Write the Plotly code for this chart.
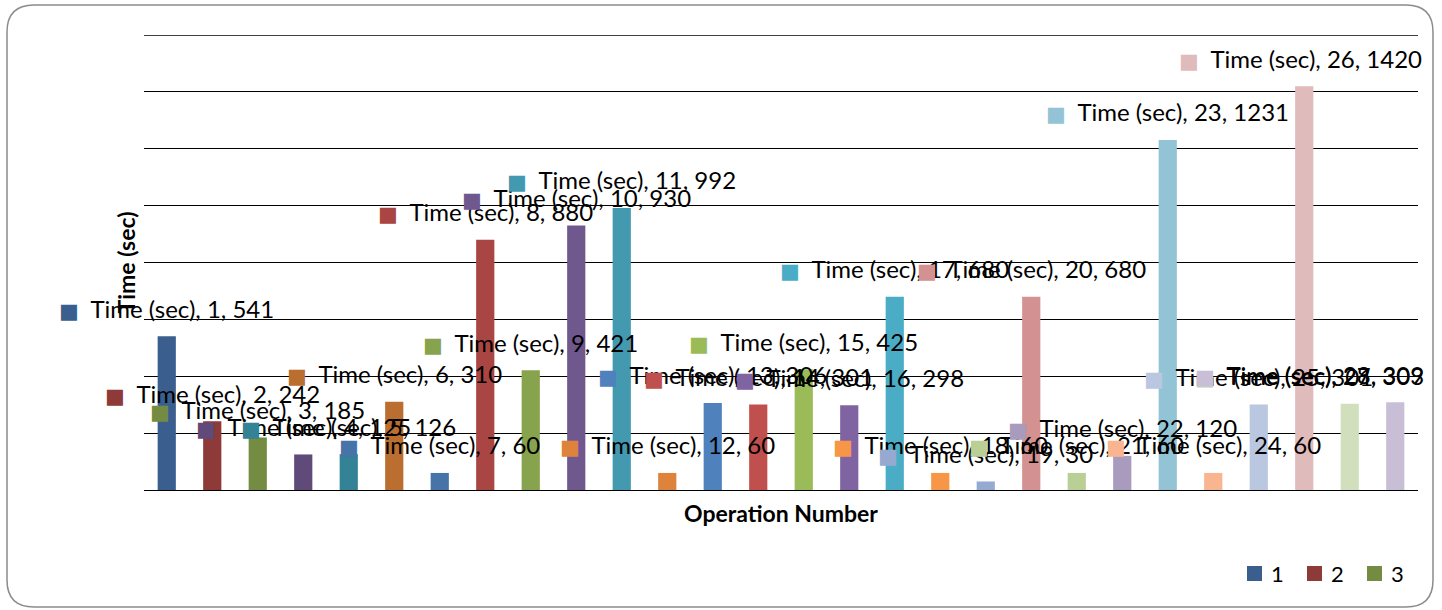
import plotly.graph_objects as go

# Operation numbers and their measured times
operations = list(range(1, 29))
times_sec = [541, 242, 185, 125, 126, 310, 60, 880, 421, 930, 992, 60, 306, 301,
             425, 298, 680, 60, 30, 680, 60, 120, 1231, 60, 301, 1420, 303, 309]
series_name = "Time (sec)"

# One colour per operation (varied point colours)
bar_colors = ["#3A5F8F", "#8E3A38", "#748C41", "#5F4A7A", "#348295", "#BA6F30",
              "#4673A8", "#A94543", "#87A34D", "#6F588E", "#4299B0", "#DE833C",
              "#4F81BD", "#C0504D", "#9BBB59", "#8064A2", "#4BACC6", "#F79646",
              "#95A9D1", "#D39291", "#BACF96", "#A99BBD", "#93C4D5", "#F8B58F",
              "#BAC7E0", "#E0BBBB", "#D1DFBD", "#C8BFD7"]

# Horizontal nudges for labels that would run past the right edge
label_xshift = [0] * 25 + [-4, -40, -86]

# Only the first few categories fit in the legend box
legend_count = 3

FONT = "Lato"
Y_MAX = 1600

fig = go.Figure()
for i, (op, t) in enumerate(zip(operations, times_sec)):
    fig.add_trace(go.Bar(
        x=[op], y=[t], name=str(op), width=0.4,
        marker=dict(color=bar_colors[i], line=dict(width=0)),
        showlegend=False, hoverinfo="skip",
    ))
    fig.add_annotation(
        x=op, y=t, xref="x", yref="y",
        text=(f"<span style='color:{bar_colors[i]};font-family:DejaVu Sans;"
              f"font-size:21px'>■</span>&nbsp;&nbsp;{series_name}, {op}, {t}"),
        showarrow=False, xanchor="center", yanchor="middle",
        yshift=28, xshift=label_xshift[i],
        font=dict(family=FONT, size=24, color="#000"),
    )

# Legend: square key + category number, laid out in a row at the bottom right
for k in range(legend_count):
    left = 1103 + 60 * k
    fig.add_shape(type="rect", xref="paper", yref="paper", xsizemode="pixel",
                  ysizemode="pixel", xanchor=0, yanchor=0,
                  x0=left, x1=left + 15, y0=-91, y1=-76,
                  fillcolor=bar_colors[k], line=dict(width=0))
    fig.add_annotation(text=str(operations[k]), x=0, y=0, xref="paper", yref="paper",
                       xshift=left + 22, yshift=-83, xanchor="left", yanchor="middle",
                       showarrow=False, font=dict(family=FONT, size=22, color="#000"))

# Top gridline at the end of the value range
fig.add_shape(type="line", xref="paper", yref="y", x0=0, x1=1, y0=Y_MAX, y1=Y_MAX,
              line=dict(color="#000", width=1.3), layer="below")

# Axis titles
fig.add_annotation(text="<b>Time (sec)</b>", x=0, y=0.5, xref="paper", yref="paper",
                   xshift=-19, xanchor="center", yanchor="middle", textangle=-90,
                   showarrow=False, font=dict(family=FONT, size=23, color="#000"))
fig.add_annotation(text="<b>Operation Number</b>", x=0.5, y=0, xref="paper", yref="paper",
                   yshift=-23, showarrow=False, xanchor="center", yanchor="middle",
                   font=dict(family=FONT, size=23, color="#000"))

# Rounded chart border
L, R, T, B, r = -137, 1289, 485, -117, 27
border = (f"M{L+r},{T} L{R-r},{T} Q{R},{T} {R},{T-r} L{R},{B+r} Q{R},{B} {R-r},{B} "
          f"L{L+r},{B} Q{L},{B} {L},{B+r} L{L},{T-r} Q{L},{T} {L+r},{T} Z")
fig.add_shape(type="path", xref="paper", yref="paper", xsizemode="pixel",
              ysizemode="pixel", xanchor=0, yanchor=0, path=border,
              line=dict(color="#8C8C8C", width=1.5), layer="below")

fig.update_layout(
    width=1442, height=610,
    margin=dict(l=144, r=24, t=35, b=120),
    paper_bgcolor="white", plot_bgcolor="white",
    barmode="overlay", showlegend=False,
    font=dict(family=FONT, color="#000"),
    xaxis=dict(range=[0.5, 28.5], showticklabels=False, showgrid=False,
               zeroline=False, ticks="", showline=False),
    yaxis=dict(range=[0, Y_MAX], dtick=200, showticklabels=False, ticks="",
               showgrid=True, gridcolor="#000", gridwidth=1.3,
               zeroline=True, zerolinecolor="#000", zerolinewidth=1.3,
               showline=False),
)

fig.write_html("out.html")
